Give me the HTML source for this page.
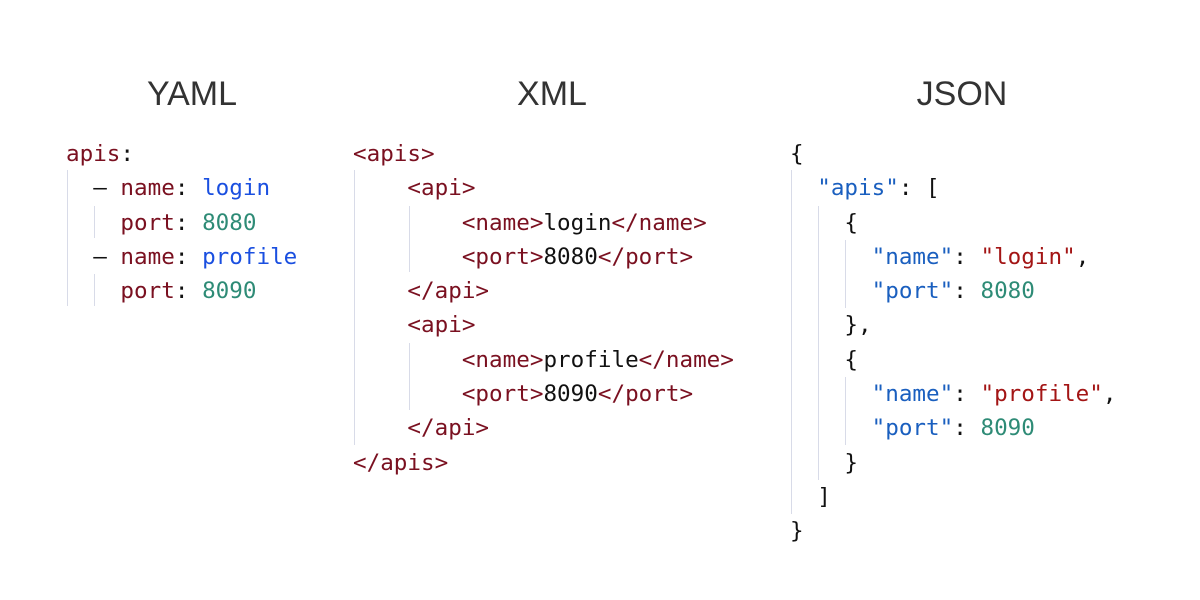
<!DOCTYPE html>
<html><head><meta charset="utf-8"><style>
body{margin:0;width:1200px;height:600px;background:#fff;position:relative;overflow:hidden}
.t{position:absolute;top:73px;font-family:"Liberation Sans",sans-serif;font-size:34px;color:#333;width:300px;text-align:center;line-height:42px}
pre{position:absolute;margin:0;font-family:"DejaVu Sans Mono",monospace;font-size:22.6px;line-height:34.3px;color:#111;top:137px}
.g{position:absolute;width:1px;background:#d8dbe8}
.k{color:#7a1020}.s{color:#1a4fe0}.n{color:#2e8b76}.jk{color:#1a5fbf}.js{color:#a31515}
</style></head><body>
<div class="t" style="left:42px">YAML</div>
<div class="t" style="left:402px">XML</div>
<div class="t" style="left:812px">JSON</div>

<div class="g" style="left:67px;top:170px;height:136px"></div>
<div class="g" style="left:94px;top:206px;height:32px"></div>
<div class="g" style="left:94px;top:274px;height:32px"></div>
<pre style="left:66px"><span class="k">apis</span>:
  – <span class="k">name</span>: <span class="s">login</span>
    <span class="k">port</span>: <span class="n">8080</span>
  – <span class="k">name</span>: <span class="s">profile</span>
    <span class="k">port</span>: <span class="n">8090</span></pre>

<div class="g" style="left:354px;top:170px;height:275px"></div>
<div class="g" style="left:409px;top:206px;height:66px"></div>
<div class="g" style="left:409px;top:343px;height:67px"></div>
<pre style="left:353px"><span class="k">&lt;apis&gt;</span>
    <span class="k">&lt;api&gt;</span>
        <span class="k">&lt;name&gt;</span>login<span class="k">&lt;/name&gt;</span>
        <span class="k">&lt;port&gt;</span>8080<span class="k">&lt;/port&gt;</span>
    <span class="k">&lt;/api&gt;</span>
    <span class="k">&lt;api&gt;</span>
        <span class="k">&lt;name&gt;</span>profile<span class="k">&lt;/name&gt;</span>
        <span class="k">&lt;port&gt;</span>8090<span class="k">&lt;/port&gt;</span>
    <span class="k">&lt;/api&gt;</span>
<span class="k">&lt;/apis&gt;</span></pre>

<div class="g" style="left:791px;top:170px;height:344px"></div>
<div class="g" style="left:818px;top:206px;height:274px"></div>
<div class="g" style="left:845px;top:240px;height:68px"></div>
<div class="g" style="left:845px;top:377px;height:68px"></div>
<pre style="left:790px">{
  <span class="jk">"apis"</span>: [
    {
      <span class="jk">"name"</span>: <span class="js">"login"</span>,
      <span class="jk">"port"</span>: <span class="n">8080</span>
    },
    {
      <span class="jk">"name"</span>: <span class="js">"profile"</span>,
      <span class="jk">"port"</span>: <span class="n">8090</span>
    }
  ]
}</pre>
</body></html>
